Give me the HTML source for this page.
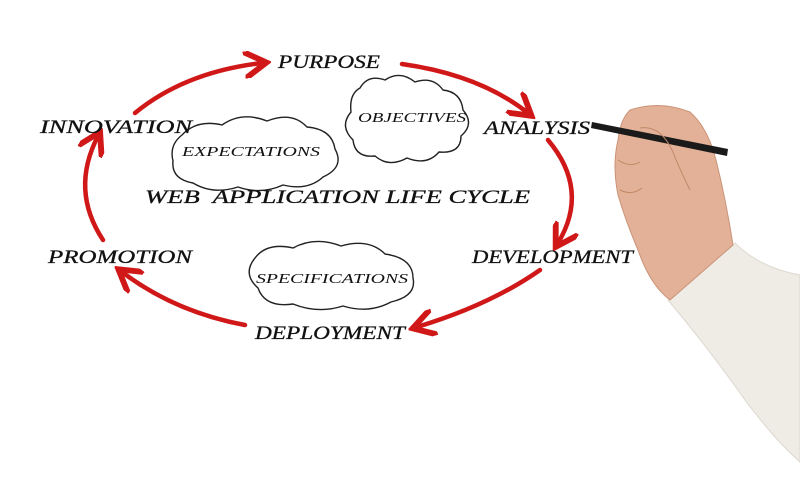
<!DOCTYPE html>
<html><head><meta charset="utf-8"><style>
html,body{margin:0;padding:0;background:#fff;}
svg{display:block}
text{font-family:"Liberation Serif",serif;font-style:italic;fill:#111}
</style></head><body>
<svg width="800" height="494" viewBox="0 0 800 494" xmlns="http://www.w3.org/2000/svg">
<defs>
<marker id="ah" markerWidth="6" markerHeight="6" refX="4" refY="3" orient="auto" markerUnits="strokeWidth">
<path d="M0,0 L5,3 L0,6" fill="none" stroke="#d01818" stroke-width="1.3"/>
</marker>
</defs>
<rect width="800" height="494" fill="#fff"/>
<g fill="none" stroke="#d01818" stroke-width="4.5" stroke-linecap="round" marker-end="url(#ah)">
<path d="M135,113 Q185,72 262,63"/>
<path d="M402,64 Q480,75 528,113"/>
<path d="M548,140 Q590,190 558,243"/>
<path d="M540,270 Q490,305 417,327"/>
<path d="M245,325 Q175,312 122,272"/>
<path d="M103,240 Q70,190 98,136"/>
</g>
<g fill="none" stroke="#222" stroke-width="1.4">
<path d="M360,88 q8,-14 25,-8 q15,-10 30,2 q18,-6 28,8 q18,2 20,20 q12,14 -2,26 q0,18 -22,16 q-12,14 -32,6 q-18,10 -32,-2 q-20,2 -22,-16 q-14,-14 -2,-28 q-2,-18 9,-24z"/>
<path d="M182,135 q15,-16 40,-10 q20,-14 45,-4 q25,-10 40,6 q25,2 28,22 q10,18 -12,28 q-15,14 -40,8 q-22,10 -45,2 q-25,8 -45,-4 q-22,-4 -20,-22 q-4,-16 9,-26z"/>
<path d="M255,258 q12,-16 38,-10 q22,-12 48,-2 q28,-8 44,8 q28,4 28,24 q4,18 -22,24 q-22,12 -48,4 q-25,8 -50,-2 q-28,4 -35,-16 q-16,-14 -3,-30z"/>
</g>
<g font-size="19" stroke="#111" stroke-width="0.3">
<text x="278" y="68" textLength="102" lengthAdjust="spacingAndGlyphs">PURPOSE</text>
<text x="40" y="133" textLength="152" lengthAdjust="spacingAndGlyphs">INNOVATION</text>
<text x="484" y="134" textLength="106" lengthAdjust="spacingAndGlyphs">ANALYSIS</text>
<text x="48" y="263" textLength="144" lengthAdjust="spacingAndGlyphs">PROMOTION</text>
<text x="472" y="263" textLength="161" lengthAdjust="spacingAndGlyphs">DEVELOPMENT</text>
<text x="255" y="339" textLength="150" lengthAdjust="spacingAndGlyphs">DEPLOYMENT</text>
<text x="145" y="203" font-size="19" textLength="385" lengthAdjust="spacingAndGlyphs">WEB&#160; APPLICATION LIFE CYCLE</text>
</g>
<g font-size="14">
<text x="358" y="122" textLength="108" lengthAdjust="spacingAndGlyphs">OBJECTIVES</text>
<text x="182" y="156" textLength="138" lengthAdjust="spacingAndGlyphs">EXPECTATIONS</text>
<text x="256" y="283" textLength="152" lengthAdjust="spacingAndGlyphs">SPECIFICATIONS</text>
</g>
<path d="M668,300 L735,243 Q760,268 800,275 L800,462 Q775,440 745,400 Q710,350 668,300Z" fill="#efece6" stroke="#ddd8d0"/>
<path d="M630,110 Q660,100 690,112 Q708,128 716,160 Q726,200 733,245 L670,300 Q650,285 638,250 Q626,222 618,195 Q612,165 618,140 Q620,120 630,110Z" fill="#e3b197" stroke="#c99478"/>
<path d="M592,122 L728,149 L727,156 L591,128 Z" fill="#1a1a1a"/>
<path d="M640,128 Q660,125 672,150 Q680,170 690,190" fill="none" stroke="#c08868"/>
<path d="M618,160 Q630,168 640,162 M620,190 Q632,196 642,188" fill="none" stroke="#c08868"/>
</svg>
</body></html>
